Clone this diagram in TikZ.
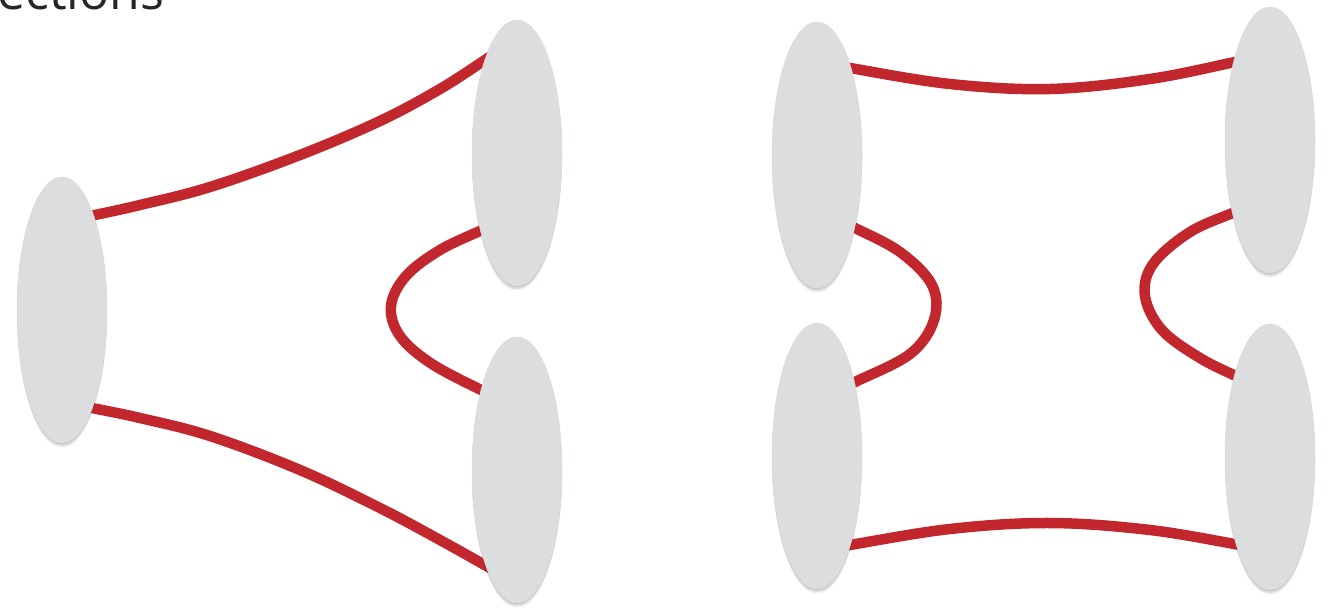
\documentclass[tikz,border=0pt]{standalone}
\usepackage{fontspec}
\setmainfont{Open Sans}
\usetikzlibrary{shapes.geometric,shadows,calc,backgrounds}
\definecolor{blob}{HTML}{DCDDDF}
\definecolor{wirered}{HTML}{C1272D}
\definecolor{titlegray}{HTML}{262626}
\tikzset{
  blobnode/.style={ellipse, fill=blob, draw=black!14, line width=0.5pt,
    minimum width=90pt, minimum height=266pt, inner sep=0pt,
    general shadow={fill=black, opacity=.10, shadow yshift=-1.5pt},
    general shadow={fill=black, opacity=.08, shadow yshift=-3pt},
    general shadow={fill=black, opacity=.06, shadow yshift=-4.5pt}},
  wire/.style={draw=wirered, line width=10.5pt, line join=round}
}
\begin{document}
\begin{tikzpicture}[x=1pt,y=-1pt]
\useasboundingbox (0,0) rectangle (1339,610);
\node[anchor=base west, inner sep=0pt, text=titlegray, font=\fontsize{50}{56}\selectfont] (title) at (-3,10) {ections};

\node[blobnode] (L) at (62,310) {};
\node[blobnode] (A) at (517,153) {};
\node[blobnode] (B) at (517,470) {};
\node[blobnode] (C) at (817,155) {};
\node[blobnode] (D) at (817,456) {};
\node[blobnode] (E) at (1270,140) {};
\node[blobnode] (F) at (1270,457) {};

\begin{scope}[on background layer]
\draw[wire] plot[smooth, tension=0.6] coordinates {
  ($(L)+(23,-93)$) ($(L)+(33,-95)$) (140,205) (210,187) (300,155) (380,121) (440,89) ($(A)+(-32,-93)$) ($(A)+(-22,-100)$)};
\draw[wire] plot[smooth, tension=0.6] coordinates {
  ($(L)+(20,96)$) ($(L)+(30,98)$) (140,418) (210,436) (300,470) (380,508) (440,540) ($(B)+(-27,98)$) ($(B)+(-17,104)$)};
\draw[wire] plot[smooth, tension=0.6] coordinates {
  ($(A)+(-25,72)$) ($(A)+(-35,77)$) (440,250) (406,276) (391,306) (400,336) (432,364) ($(B)+(-32,-78)$) ($(B)+(-22,-73)$)};
\draw[wire] plot[smooth, tension=0.6] coordinates {
  ($(C)+(23,-89)$) ($(C)+(33,-87)$) (950,84) (1050,89) (1150,79) ($(E)+(-35,-78)$) ($(E)+(-25,-80)$)};
\draw[wire] plot[smooth, tension=0.6] coordinates {
  ($(C)+(28,68)$) ($(C)+(38,73)$) (900,252) (932,285) (934,320) (910,354) ($(D)+(38,-74)$) ($(D)+(28,-69)$)};
\draw[wire] plot[smooth, tension=0.6] coordinates {
  ($(E)+(-25,67)$) ($(E)+(-35,72)$) (1190,232) (1153,264) (1145,296) (1162,330) (1200,358) ($(F)+(-30,-79)$) ($(F)+(-20,-74)$)};
\draw[wire] plot[smooth, tension=0.6] coordinates {
  ($(D)+(23,91)$) ($(D)+(33,89)$) (950,529) (1050,523) (1150,530) ($(F)+(-30,88)$) ($(F)+(-20,90)$)};
\end{scope}
\end{tikzpicture}
\end{document}
